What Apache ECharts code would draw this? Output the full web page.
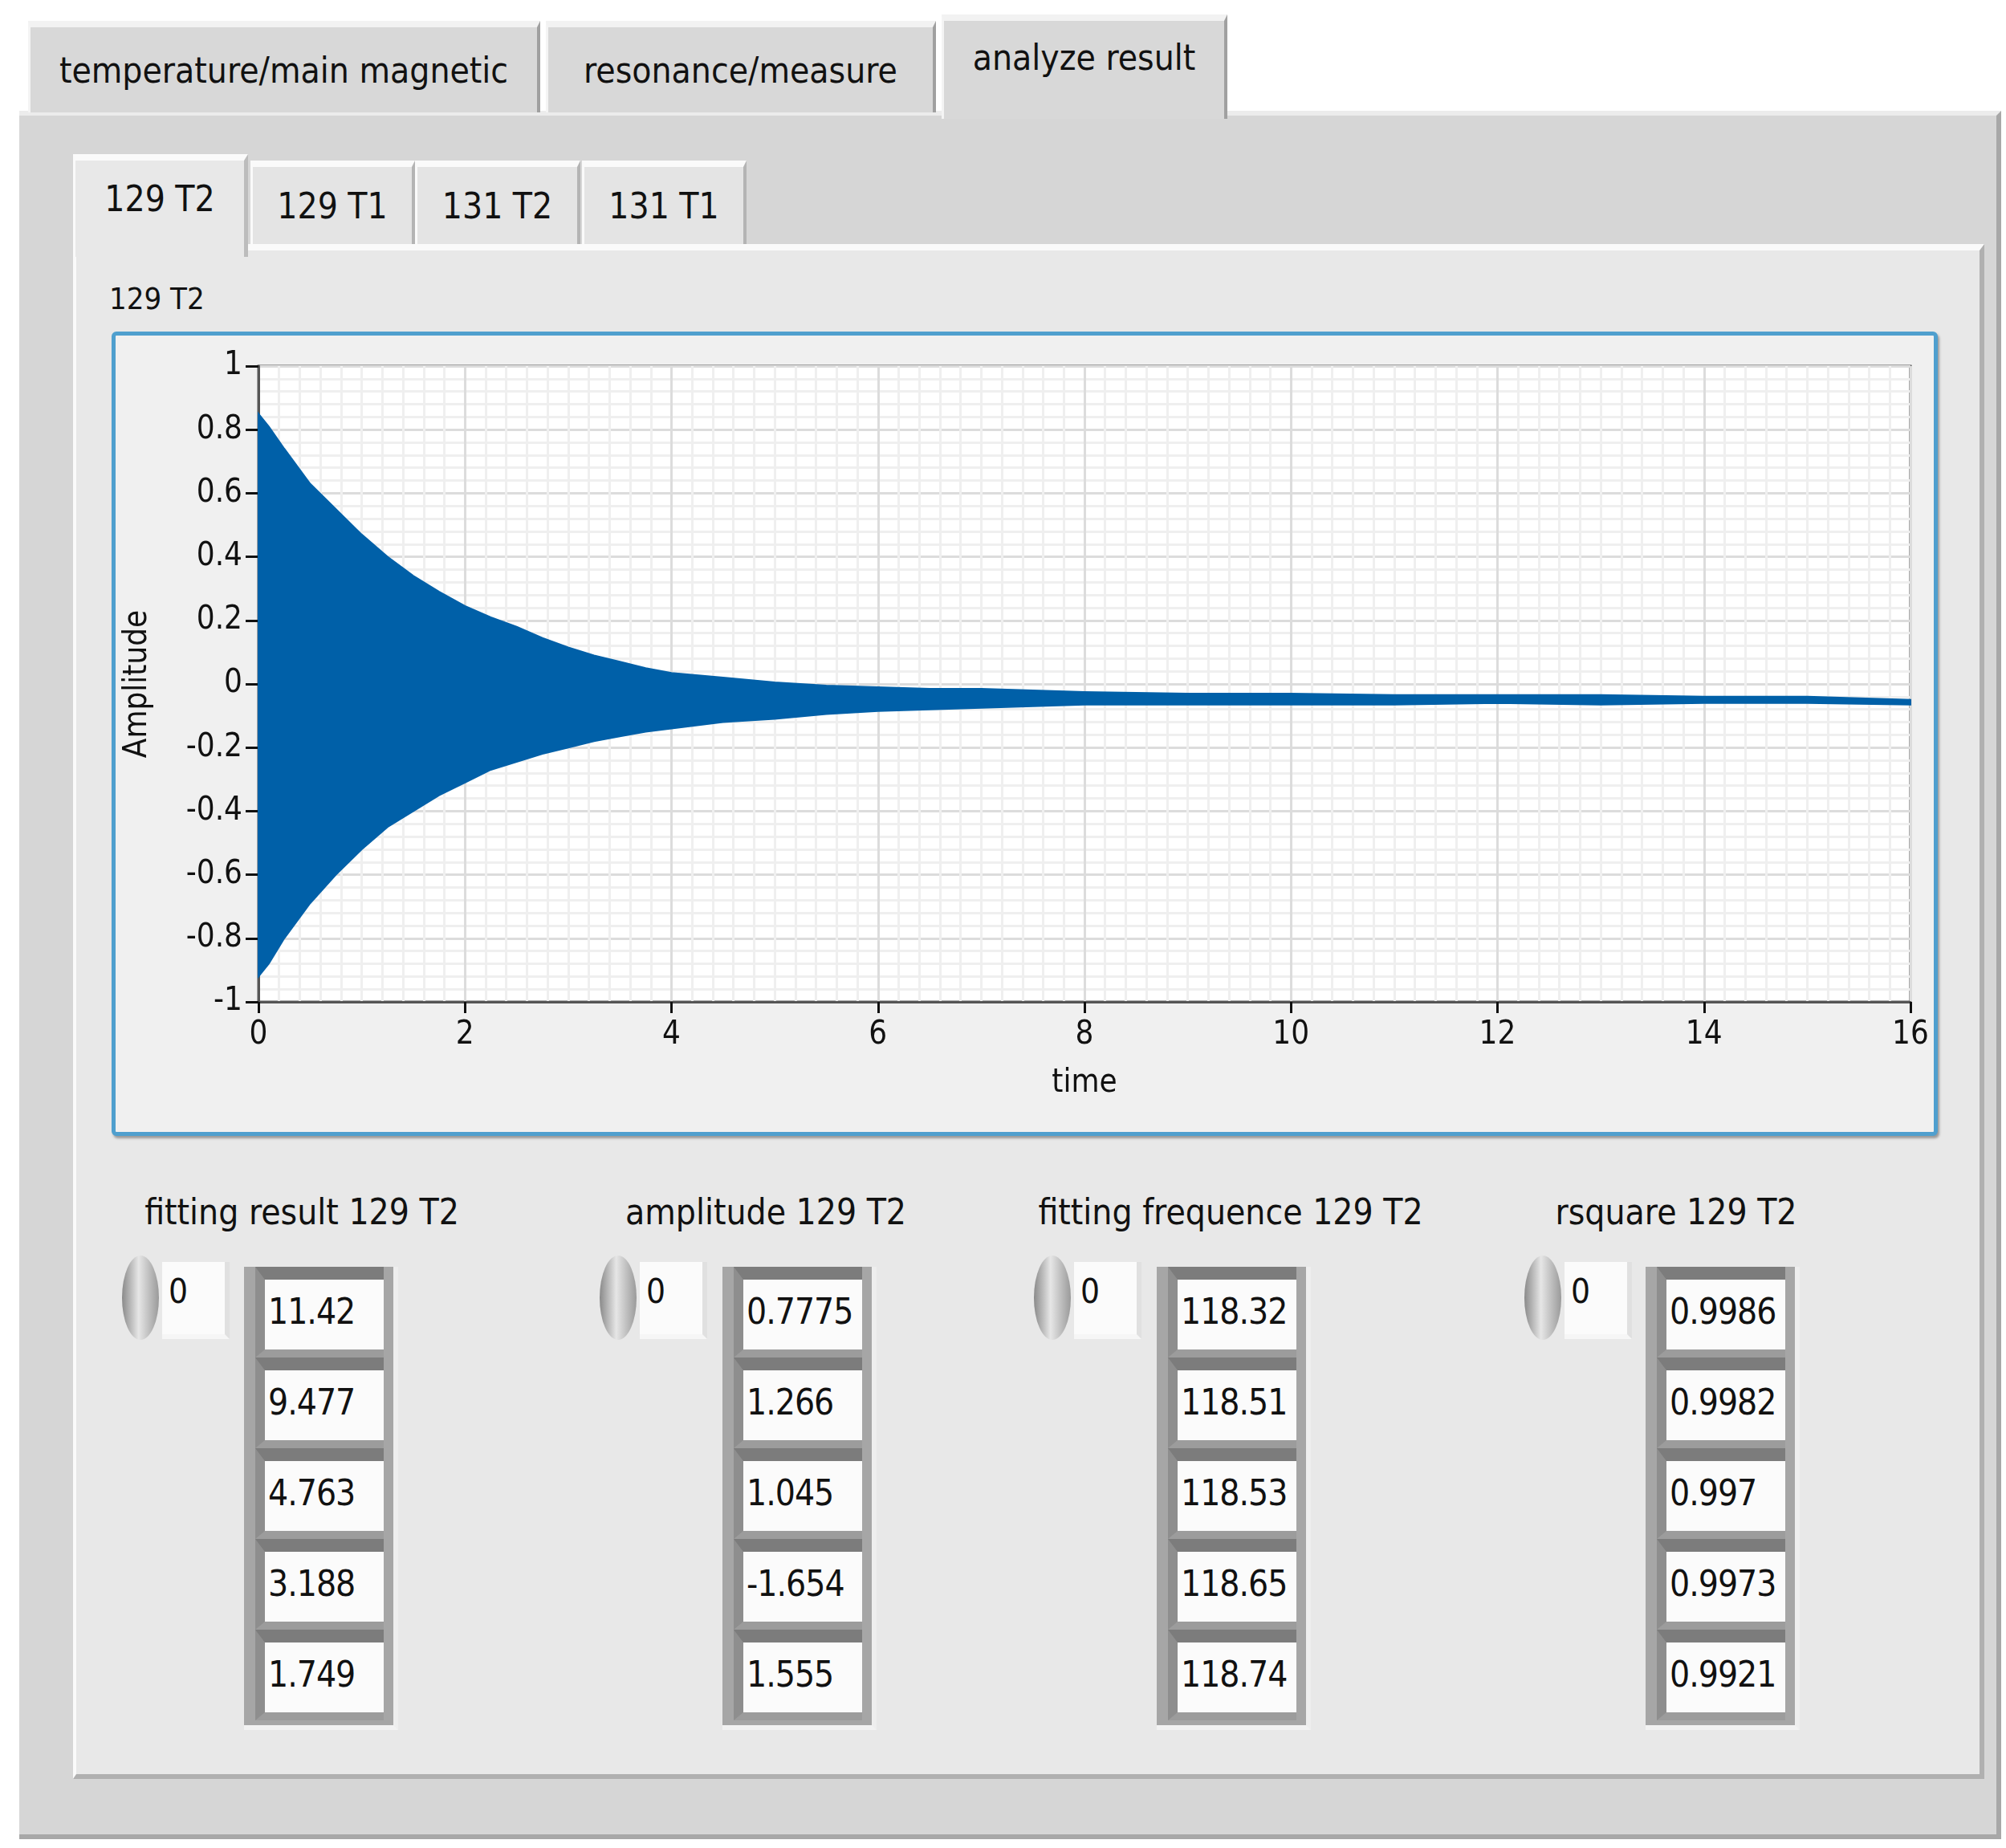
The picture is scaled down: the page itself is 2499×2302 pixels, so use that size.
<!DOCTYPE html>
<html>
<head>
<meta charset="utf-8">
<script src="https://cdn.jsdelivr.net/npm/echarts@6/dist/echarts.min.js"></script>
<style>
  body { margin: 0; width: 2499px; height: 2302px; background: #fff; position: relative; overflow: hidden;
         font-family: "DejaVu Sans Condensed", "Liberation Sans Narrow", sans-serif; color: #111; }
  .abs { position: absolute; box-sizing: border-box; }
  .tab { position: absolute; box-sizing: border-box; background: #d8d8d8; border-top: 8px solid #f2f2f2;
         border-left: 3px solid #f4f4f4; border-right: 4px solid #a0a0a0; font-size: 44px;
         display: flex; align-items: center; justify-content: center; }
  .itab { position: absolute; box-sizing: border-box; background: #e4e4e4; border-top: 8px solid #fafafa;
          border-left: 3px solid #fafafa; border-right: 4px solid #b4b4b4; font-size: 44px;
          display: flex; align-items: center; justify-content: center; }
  .title { position: absolute; font-size: 44px; transform: translateX(-50%); white-space: nowrap; }
  .spin { position: absolute; width: 46px; height: 105px; border-radius: 50%;
          background: linear-gradient(90deg, #8a8a8a, #e6e6e6 45%, #9a9a9a); }
  .idx { position: absolute; width: 84px; height: 96px; background: #fbfbfb; border-right: 6px solid #e0e0e0;
         border-bottom: 6px solid #f6f6f6; font-size: 42px; padding: 12px 0 0 8px; box-sizing: border-box; }
  .arr { position: absolute; width: 192px; background: #a6a6a6; box-sizing: border-box; padding: 0 12px 6px 14px;
         border-right: 6px solid #eeeeee; border-bottom: 6px solid #f2f2f2; }
  .cell { height: 113px; box-sizing: border-box; border-top: 16px solid #7c7c7c; border-left: 12px solid #8e8e8e;
          border-bottom: 10px solid #9c9c9c; background: #fbfbfb; font-size: 44px; letter-spacing: -1px; padding: 14px 0 0 4px; }
</style>
</head>
<body>
<div class="abs" style="left:24px;top:138px;width:2469px;height:2153px;background:#d6d6d6;border-top:6px solid #ececec;border-right:6px solid #a8a8a8;border-bottom:6px solid #a8a8a8"></div>
<div class="tab" style="left:35px;top:26px;width:638px;height:114px;">temperature/main magnetic</div>
<div class="tab" style="left:680px;top:26px;width:486px;height:114px;">resonance/measure</div>
<div class="tab" style="left:1173px;top:18px;width:356px;height:130px;align-items:flex-start;padding-top:20px;">analyze result</div>

<div class="abs" style="left:91px;top:304px;width:2381px;height:1912px;background:#e8e8e8;border-top:8px solid #fafafa;border-right:6px solid #b0b0b0;border-bottom:6px solid #b0b0b0;border-left:4px solid #fafafa"></div>
<div class="itab" style="left:91px;top:192px;width:218px;height:128px;background:#e8e8e8;border-right:5px solid #bcbcbc;align-items:flex-start;padding-top:22px;">129 T2</div>
<div class="itab" style="left:312px;top:200px;width:205px;height:104px;">129 T1</div>
<div class="itab" style="left:517px;top:200px;width:206px;height:104px;">131 T2</div>
<div class="itab" style="left:725px;top:200px;width:205px;height:104px;">131 T1</div>
<div class="abs" style="left:136px;top:350px;font-size:38px;">129 T2</div>

<div class="abs" style="left:139px;top:413px;width:2275px;height:1002px;background:#f0f0f0;border:5px solid #4f9fce;border-radius:6px;box-shadow:2px 3px 3px #999"></div>
<div id="chart" class="abs" style="left:144px;top:418px;width:2265px;height:992px;"></div>

<div id="clusters"></div>

<script>
// envelope of the decaying FID
var times = [0, 0.1, 0.25, 0.5, 0.75, 1, 1.25, 1.5, 1.75, 2, 2.25, 2.5, 2.75, 3, 3.25, 3.5, 3.75, 4, 4.5, 5, 5.5, 6, 6.5, 7, 7.5, 8, 9, 10, 11, 12, 13, 14, 15, 16];
var upper = [0.85, 0.81, 0.74, 0.63, 0.55, 0.47, 0.40, 0.34, 0.29, 0.245, 0.21, 0.18, 0.145, 0.115, 0.09, 0.07, 0.05, 0.035, 0.02, 0.005, -0.005, -0.01, -0.015, -0.015, -0.02, -0.025, -0.03, -0.03, -0.035, -0.035, -0.035, -0.04, -0.04, -0.05];
var lower = [-0.92, -0.88, -0.80, -0.69, -0.60, -0.52, -0.45, -0.40, -0.35, -0.31, -0.27, -0.245, -0.22, -0.20, -0.18, -0.165, -0.15, -0.14, -0.12, -0.11, -0.095, -0.085, -0.08, -0.075, -0.07, -0.065, -0.065, -0.065, -0.065, -0.06, -0.065, -0.06, -0.06, -0.065];

var clusterTitles = ['fitting result 129 T2', 'amplitude 129 T2', 'fitting frequence 129 T2', 'rsquare 129 T2'];
var fittingResult = ['11.42', '9.477', '4.763', '3.188', '1.749'];
var amplitude = ['0.7775', '1.266', '1.045', '-1.654', '1.555'];
var frequence = ['118.32', '118.51', '118.53', '118.65', '118.74'];
var rsquare = ['0.9986', '0.9982', '0.997', '0.9973', '0.9921'];

var clusterValues = [fittingResult, amplitude, frequence, rsquare];
var titleX = [376, 954, 1533, 2088];
var spinX = [152, 747, 1288, 1899];
var arrX = [304, 900, 1441, 2050];
var html = '';
for (var i = 0; i < 4; i++) {
  html += '<div class="title" style="left:' + titleX[i] + 'px;top:1484px;">' + clusterTitles[i] + '</div>';
  html += '<div class="spin" style="left:' + spinX[i] + 'px;top:1564px;"></div>';
  html += '<div class="idx" style="left:' + (spinX[i] + 50) + 'px;top:1572px;">0</div>';
  var cells = clusterValues[i].map(function (v) { return '<div class="cell">' + v + '</div>'; }).join('');
  html += '<div class="arr" style="left:' + arrX[i] + 'px;top:1578px;">' + cells + '</div>';
}
document.getElementById('clusters').innerHTML = html;

var chart = echarts.init(document.getElementById('chart'));
var tickFont = { fontFamily: 'DejaVu Sans Condensed', fontSize: 40, color: '#111' };
chart.setOption({
  animation: false,
  grid: { left: 173, top: 38, right: 29, bottom: 162, show: true, borderColor: '#555', borderWidth: 3, backgroundColor: '#fff' },
  xAxis: {
    type: 'value', min: 0, max: 16, interval: 2,
    name: 'time', nameLocation: 'middle', nameGap: 82,
    nameTextStyle: { fontFamily: 'DejaVu Sans Condensed', fontSize: 40, color: '#111' },
    axisLine: { show: true, onZero: false, lineStyle: { color: '#555', width: 3 } },
    axisTick: { show: true, length: 14, lineStyle: { color: '#111', width: 3 } },
    axisLabel: Object.assign({ margin: 22 }, tickFont),
    splitLine: { show: true, lineStyle: { color: '#dcdcdc', width: 3 } },
    minorTick: { show: true, splitNumber: 10, length: 0 },
    minorSplitLine: { show: true, lineStyle: { color: '#efefef', width: 3 } }
  },
  yAxis: {
    type: 'value', min: -1, max: 1, interval: 0.2,
    name: 'Amplitude', nameLocation: 'middle', nameGap: 130, nameRotate: 90,
    nameTextStyle: { fontFamily: 'DejaVu Sans Condensed', fontSize: 40, color: '#111' },
    axisLine: { show: true, onZero: false, lineStyle: { color: '#555', width: 3 } },
    axisTick: { show: true, length: 16, lineStyle: { color: '#111', width: 3 } },
    axisLabel: Object.assign({ margin: 20, formatter: function (v) { return String(Math.round(v * 10) / 10); } }, tickFont),
    splitLine: { show: true, lineStyle: { color: '#dcdcdc', width: 3 } },
    minorTick: { show: true, splitNumber: 5, length: 0 },
    minorSplitLine: { show: true, lineStyle: { color: '#efefef', width: 3 } }
  },
  series: [{
    type: 'custom',
    data: [0],
    renderItem: function (params, api) {
      var pts = [];
      for (var k = 0; k < times.length; k++) pts.push(api.coord([times[k], upper[k]]));
      for (var k = times.length - 1; k >= 0; k--) pts.push(api.coord([times[k], lower[k]]));
      return {
        type: 'polygon',
        shape: { points: pts, smooth: 0 },
        style: { fill: '#0060a8', stroke: '#0060a8', lineWidth: 2 }
      };
    }
  }]
});
</script>
</body>
</html>
